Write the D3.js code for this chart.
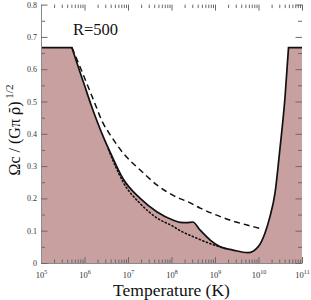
<!DOCTYPE html>
<html>
<head>
<meta charset="utf-8">
<script src="https://cdn.jsdelivr.net/npm/d3@7"></script>
<style>
  body { margin: 0; background: #fff; }
  svg { display: block; }
</style>
</head>
<body>
<svg id="chart" width="311" height="300"></svg>
<script>
const FILL = "#c8a0a0";
const SERIF = '"Liberation Serif", "DejaVu Serif", serif';

// log10(T) and Omega values
const solidExp = [5.71, 5.85, 6.0, 6.15, 6.3, 6.45, 6.6, 6.89, 7.28, 7.67, 8.03, 8.2, 8.35, 8.49, 8.65, 8.89, 9.12, 9.41, 9.76, 9.99, 10.15, 10.26, 10.38, 10.49, 10.61, 10.69];
const solidVal = [0.667, 0.61, 0.55, 0.49, 0.435, 0.385, 0.34, 0.26, 0.2, 0.158, 0.133, 0.126, 0.125, 0.127, 0.103, 0.071, 0.05, 0.04, 0.032, 0.05, 0.093, 0.142, 0.217, 0.35, 0.514, 0.667];
const flatVal = 0.667;

const dashExp = [5.71, 5.92, 6.1, 6.25, 6.4, 6.6, 6.89, 7.28, 7.67, 8.03, 8.43, 8.66, 9.0, 9.34, 9.92, 10.08];
const dashVal = [0.667, 0.6, 0.54, 0.49, 0.44, 0.395, 0.34, 0.288, 0.241, 0.21, 0.186, 0.17, 0.15, 0.133, 0.111, 0.105];

const dotExp = [6.55, 6.72, 6.89, 7.28, 7.67, 8.03, 8.2, 8.49, 8.89, 9.11, 9.28];
const dotVal = [0.352, 0.297, 0.25, 0.184, 0.139, 0.114, 0.1, 0.082, 0.06, 0.05, 0.043];

const xDecades = [5, 6, 7, 8, 9, 10, 11];
const yTicks = [0, 0.1, 0.2, 0.3, 0.4, 0.5, 0.6, 0.7, 0.8];
const yMinor = [0.05, 0.15, 0.25, 0.35, 0.45, 0.55, 0.65, 0.75];

const L = 41, R = 302, T = 4.6, B = 263;

const svg = d3.select("#chart");

const x = d3.scaleLog().domain([1e5, 1e11]).range([L, R]);
const y = d3.scaleLinear().domain([0, 0.8]).range([B, T]);

const toPts = (ex, vals) => ex.map((e, i) => [Math.pow(10, e), vals[i]]);

const smooth = d3.line()
    .x(d => x(d[0]))
    .y(d => y(d[1]))
    .curve(d3.curveMonotoneX);

// solid: flat - smooth middle - flat, sharp corners kept
const mid = smooth(toPts(solidExp, solidVal));
const solidPath = "M" + x(1e5) + "," + y(flatVal) + "L" + mid.slice(1) +
    "L" + x(1e11) + "," + y(flatVal);
const areaPath = solidPath + "L" + x(1e11) + "," + y(0) + "L" + x(1e5) + "," + y(0) + "Z";

svg.append("path")
    .attr("d", areaPath)
    .attr("fill", FILL)
    .attr("stroke", "none");

svg.append("path")
    .attr("d", smooth(toPts(dotExp, dotVal)))
    .attr("fill", "none")
    .attr("stroke", "#111")
    .attr("stroke-width", 1.6)
    .attr("stroke-dasharray", "1.2 2.6")
    .attr("stroke-linecap", "round");

svg.append("path")
    .attr("d", smooth(toPts(dashExp, dashVal)))
    .attr("fill", "none")
    .attr("stroke", "#111")
    .attr("stroke-width", 1.5)
    .attr("stroke-dasharray", "6 4");

svg.append("path")
    .attr("d", solidPath)
    .attr("fill", "none")
    .attr("stroke", "#111")
    .attr("stroke-width", 1.7);

// axes
const minorX = [];
xDecades.slice(0, -1).forEach(d => {
    for (let k = 2; k <= 9; k++) minorX.push(k * Math.pow(10, d));
});
const decadeVals = xDecades.map(d => Math.pow(10, d));

function styleAxis(g, keepDomain) {
    g.selectAll(".tick line").attr("stroke", "#6a6a6a");
    if (keepDomain) g.select(".domain").attr("stroke", "#8a8a8a");
    else g.select(".domain").remove();
}

// bottom
const gB = svg.append("g").attr("transform", `translate(0,${B})`);
gB.call(d3.axisBottom(x).tickValues(minorX).tickSize(-3.5).tickFormat(""));
styleAxis(gB, false);
const gB2 = svg.append("g").attr("transform", `translate(0,${B})`);
gB2.call(d3.axisBottom(x).tickValues(decadeVals).tickSize(-6).tickSizeOuter(0).tickFormat(""));
styleAxis(gB2, true);
gB2.selectAll(".tick").append("text")
    .attr("y", 15)
    .attr("fill", "#333")
    .style("font-family", SERIF)
    .style("font-size", "8.5px")
    .attr("text-anchor", "middle")
    .each(function(d) {
        const t = d3.select(this);
        t.append("tspan").text("10");
        t.append("tspan")
            .style("font-size", "6px")
            .attr("dy", -4)
            .text(Math.round(Math.log10(d)));
    });

// top
const gT = svg.append("g").attr("transform", `translate(0,${T})`);
gT.call(d3.axisTop(x).tickValues(minorX).tickSize(-3.5).tickFormat(""));
styleAxis(gT, false);
const gT2 = svg.append("g").attr("transform", `translate(0,${T})`);
gT2.call(d3.axisTop(x).tickValues(decadeVals).tickSize(-6).tickFormat(""));
styleAxis(gT2, false);

// left
const gL = svg.append("g").attr("transform", `translate(${L},0)`);
gL.call(d3.axisLeft(y).tickValues(yMinor).tickSize(-4).tickFormat(""));
styleAxis(gL, false);
const gL2 = svg.append("g").attr("transform", `translate(${L},0)`);
gL2.call(d3.axisLeft(y).tickValues(yTicks).tickSize(-6.5).tickSizeOuter(0).tickPadding(4)
    .tickFormat(d => d === 0 ? "0" : d3.format(".1f")(d)));
styleAxis(gL2, true);
gL2.selectAll(".tick text")
    .attr("fill", "#333")
    .style("font-size", "8px")
    .style("font-family", SERIF);

// right
const gR = svg.append("g").attr("transform", `translate(${R},0)`);
gR.call(d3.axisRight(y).tickValues(yMinor).tickSize(-4).tickFormat(""));
styleAxis(gR, false);
const gR2 = svg.append("g").attr("transform", `translate(${R},0)`);
gR2.call(d3.axisRight(y).tickValues(yTicks).tickSize(-6.5).tickFormat(""));
styleAxis(gR2, false);

// labels
svg.append("text")
    .attr("x", 73)
    .attr("y", 35)
    .style("font-family", SERIF)
    .style("font-size", "16.5px")
    .attr("fill", "#111")
    .text("R=500");

svg.append("text")
    .attr("x", (L + R) / 2)
    .attr("y", 296)
    .attr("text-anchor", "middle")
    .style("font-family", SERIF)
    .style("font-size", "17.5px")
    .attr("fill", "#111")
    .text("Temperature (K)");

const yt = svg.append("text")
    .attr("transform", "translate(20,130) rotate(-90)")
    .attr("text-anchor", "middle")
    .style("font-family", SERIF)
    .style("font-size", "16px")
    .attr("fill", "#111");
yt.append("tspan").text("Ωc / (Gπ ");
yt.append("tspan").style("font-family", '"DejaVu Serif", serif').style("font-size", "14px").text("ρ\u0304");
yt.append("tspan").text(")");
yt.append("tspan").style("font-size", "11px").attr("dy", -7).text(" 1/2");
</script>
</body>
</html>
